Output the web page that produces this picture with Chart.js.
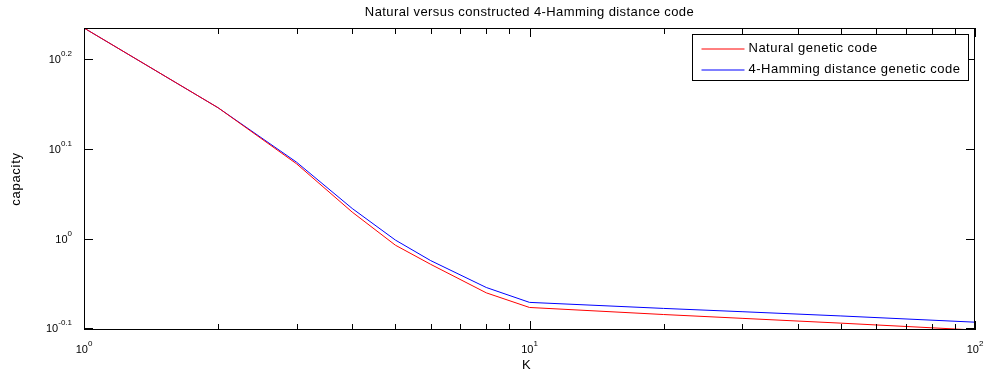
<!DOCTYPE html>
<html>
<head>
<meta charset="utf-8">
<script src="https://cdn.jsdelivr.net/npm/chart.js@4.4.0/dist/chart.umd.min.js"></script>
<style>
body { margin: 0; background: #fff; }
</style>
</head>
<body>
<canvas id="CapacityChart" width="985" height="374"></canvas>
<script>
var kValues = [1, 2, 3, 4, 5, 6, 8, 10, 20, 30, 50, 100];
var naturalCapacity = [1.715, 1.398, 1.211, 1.070, 0.983, 0.936, 0.870, 0.838, 0.823, 0.815, 0.805, 0.791];
var hammingCapacity = [1.715, 1.398, 1.216, 1.080, 0.996, 0.945, 0.882, 0.849, 0.836, 0.829, 0.820, 0.807];
var seriesLabels = ['Natural genetic code', '4-Hamming distance genetic code'];

var xTicks = [1, 2, 3, 4, 5, 6, 7, 8, 9, 10, 20, 30, 40, 50, 60, 70, 80, 90, 100];
var xMajorTicks = [1, 10, 100];
var xTickExponents = ['0', '1', '2'];
var yTickExponents = ['-0.1', '0', '0.1', '0.2'];
var yMin = 0.791, yMax = 1.715;

var FONT = '"Liberation Sans", Arial, sans-serif';

function points(ys) {
    return kValues.map(function (k, i) { return { x: k, y: ys[i] }; });
}

// draws "10" with a small raised exponent, like matlab does
function drawPow(ctx, x, y, exp, align) {
    ctx.font = '11px ' + FONT;
    var wb = ctx.measureText('10').width;
    ctx.font = '8px ' + FONT;
    var we = ctx.measureText(exp).width;
    var x0 = align === 'right' ? x - wb - we : x - (wb + we) / 2;
    ctx.textAlign = 'left';
    ctx.textBaseline = 'alphabetic';
    ctx.font = '11px ' + FONT;
    ctx.fillText('10', x0, y);
    ctx.font = '8px ' + FONT;
    ctx.fillText(exp, x0 + wb, y - 7);
}

var matlabAxes = {
    id: 'matlabAxes',
    afterDraw: function (chart) {
        var ctx = chart.ctx, a = chart.chartArea;
        var xs = chart.scales.x, ys = chart.scales.y;
        ctx.save();
        ctx.fillStyle = '#000';
        ctx.strokeStyle = '#000';
        ctx.lineWidth = 1;
        ctx.strokeRect(Math.round(a.left) + 0.5, Math.round(a.top) + 0.5,
            Math.round(a.right - a.left) - 1, Math.round(a.bottom - a.top) - 1);

        ctx.beginPath();
        xTicks.forEach(function (v) {
            var px = Math.round(xs.getPixelForValue(v)) + 0.5;
            var len = xMajorTicks.indexOf(v) >= 0 ? 9 : 6;
            ctx.moveTo(px, a.bottom); ctx.lineTo(px, a.bottom - len);
            ctx.moveTo(px, a.top); ctx.lineTo(px, a.top + len);
        });
        yTickExponents.forEach(function (e) {
            var py = Math.round(ys.getPixelForValue(Math.pow(10, parseFloat(e)))) + 0.5;
            ctx.moveTo(a.left, py); ctx.lineTo(a.left + 9, py);
            ctx.moveTo(a.right, py); ctx.lineTo(a.right - 9, py);
        });
        ctx.stroke();

        xMajorTicks.forEach(function (v, i) {
            drawPow(ctx, xs.getPixelForValue(v), a.bottom + 23, xTickExponents[i], 'center');
        });
        yTickExponents.forEach(function (e) {
            var py = ys.getPixelForValue(Math.pow(10, parseFloat(e)));
            drawPow(ctx, a.left - 12, py + 4, e, 'right');
        });

        // title and axis labels
        ctx.font = '13px ' + FONT;
        ctx.letterSpacing = '0.4px';
        ctx.textAlign = 'center';
        ctx.textBaseline = 'alphabetic';
        ctx.fillText('Natural versus constructed 4-Hamming distance code', (a.left + a.right) / 2, 16);
        ctx.fillText('K', (a.left + a.right) / 2 - 3, 369);
        ctx.save();
        ctx.letterSpacing = '0.7px';
        ctx.translate(20, (a.top + a.bottom) / 2);
        ctx.rotate(-Math.PI / 2);
        ctx.fillText('capacity', 0, 0);
        ctx.restore();

        // legend box
        var lx = a.right - 282.5, ly = a.top + 6.5;
        ctx.fillStyle = '#fff';
        ctx.fillRect(lx, ly, 276, 46);
        ctx.strokeStyle = '#000';
        ctx.strokeRect(lx, ly, 276, 46);
        ctx.letterSpacing = '0.5px';
        chart.data.datasets.forEach(function (ds, i) {
            var yy = ly + 14 + i * 21;
            ctx.strokeStyle = ds.borderColor;
            ctx.beginPath();
            ctx.moveTo(lx + 9, yy + 0.5); ctx.lineTo(lx + 52, yy + 0.5);
            ctx.stroke();
            ctx.fillStyle = '#000';
            ctx.font = '13px ' + FONT;
            ctx.textAlign = 'left';
            ctx.textBaseline = 'middle';
            ctx.fillText(ds.label, lx + 56, yy);
        });
        ctx.restore();
    }
};

var ctxcapacity = document.getElementById('CapacityChart');
var CapacityChart = new Chart(ctxcapacity, {
    type: 'line',
    data: {
        datasets: [{
            label: seriesLabels[0],
            data: points(naturalCapacity),
            borderColor: 'rgb(255, 0, 0)',
            borderWidth: 1,
            pointRadius: 0,
            tension: 0
        }, {
            label: seriesLabels[1],
            data: points(hammingCapacity),
            borderColor: 'rgb(0, 0, 255)',
            borderWidth: 1,
            pointRadius: 0,
            tension: 0
        }]
    },
    options: {
        responsive: false,
        animation: false,
        devicePixelRatio: 1,
        layout: { padding: { left: 84, top: 28, right: 10, bottom: 44 } },
        plugins: { legend: { display: false }, title: { display: false }, tooltip: { enabled: false } },
        scales: {
            x: { type: 'logarithmic', min: 1, max: 100, display: false },
            y: { type: 'logarithmic', min: yMin, max: yMax, display: false }
        }
    },
    plugins: [matlabAxes]
});
</script>
</body>
</html>
